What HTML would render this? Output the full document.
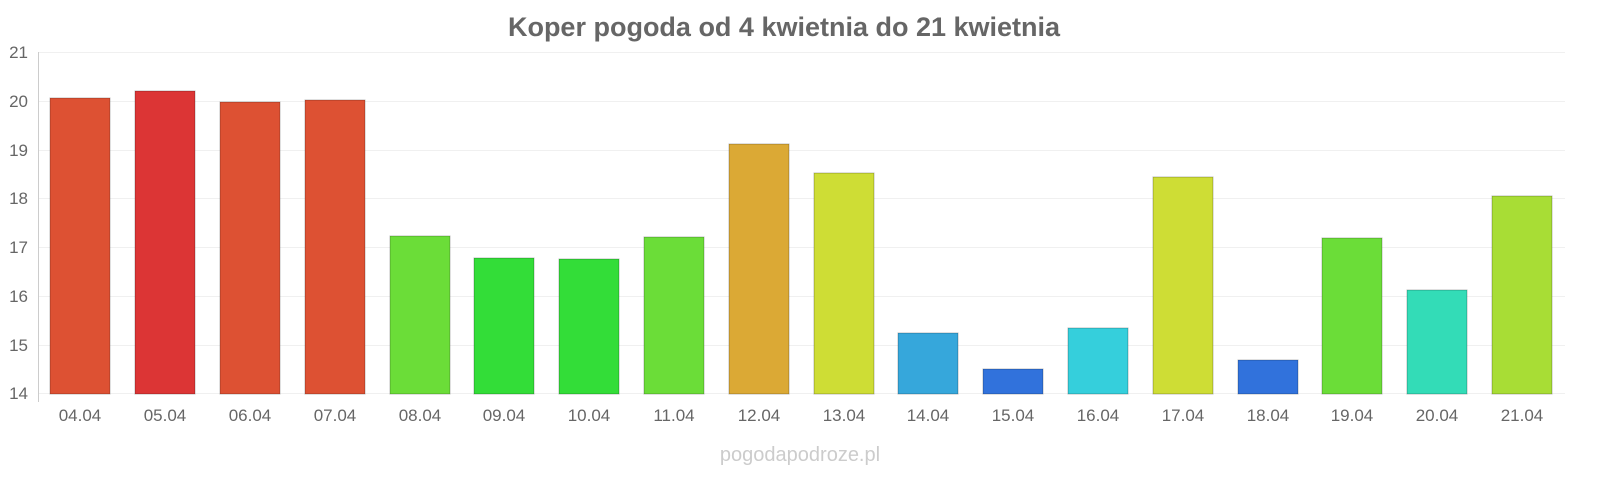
<!DOCTYPE html>
<html><head><meta charset="utf-8"><style>
body{margin:0;background:#fff;}
svg{display:block;font-family:"Liberation Sans",sans-serif;}
</style></head><body>
<svg width="1600" height="480" xmlns="http://www.w3.org/2000/svg">
<rect width="1600" height="480" fill="#fff"/>
<text x="784" y="36" text-anchor="middle" font-size="27" font-weight="bold" fill="#666">Koper pogoda od 4 kwietnia do 21 kwietnia</text>
<g stroke="#f0f0f0" stroke-width="1">
<line x1="38" x2="1565" y1="52.5" y2="52.5"/><line x1="38" x2="1565" y1="101.5" y2="101.5"/>
<line x1="38" x2="1565" y1="150.5" y2="150.5"/><line x1="38" x2="1565" y1="198.5" y2="198.5"/>
<line x1="38" x2="1565" y1="247.5" y2="247.5"/><line x1="38" x2="1565" y1="296.5" y2="296.5"/>
<line x1="38" x2="1565" y1="345.5" y2="345.5"/><line x1="38" x2="1565" y1="393.5" y2="393.5"/>
</g>
<line x1="38.5" x2="38.5" y1="52" y2="402" stroke="#ccc"/>
<g font-size="17" fill="#666" text-anchor="end">
<text x="28" y="58">21</text><text x="28" y="107">20</text><text x="28" y="156">19</text><text x="28" y="204">18</text>
<text x="28" y="253">17</text><text x="28" y="302">16</text><text x="28" y="351">15</text><text x="28" y="399">14</text>
</g>
<g stroke-opacity="0.25" stroke="#000">
<rect x="50" y="98" width="60" height="296" fill="#dd5133"/>
<rect x="135" y="91" width="60" height="303" fill="#dc3535"/>
<rect x="220" y="102" width="60" height="292" fill="#dd5133"/>
<rect x="305" y="100" width="60" height="294" fill="#dd5133"/>
<rect x="390" y="236" width="60" height="158" fill="#6bdd38"/>
<rect x="474" y="258" width="60" height="136" fill="#33dd38"/>
<rect x="559" y="259" width="60" height="135" fill="#33dd38"/>
<rect x="644" y="237" width="60" height="157" fill="#6bdd38"/>
<rect x="729" y="144" width="60" height="250" fill="#dba935"/>
<rect x="814" y="173" width="60" height="221" fill="#cedd35"/>
<rect x="898" y="333" width="60" height="61" fill="#36a7db"/>
<rect x="983" y="369" width="60" height="25" fill="#3172dc"/>
<rect x="1068" y="328" width="60" height="66" fill="#35cfdc"/>
<rect x="1153" y="177" width="60" height="217" fill="#cedd35"/>
<rect x="1238" y="360" width="60" height="34" fill="#3172dc"/>
<rect x="1322" y="238" width="60" height="156" fill="#6bdd38"/>
<rect x="1407" y="290" width="60" height="104" fill="#33dcb7"/>
<rect x="1492" y="196" width="60" height="198" fill="#a8dd35"/>
</g>
<g font-size="17" fill="#666" text-anchor="middle">
<text x="80" y="421">04.04</text><text x="165" y="421">05.04</text><text x="250" y="421">06.04</text><text x="335" y="421">07.04</text>
<text x="420" y="421">08.04</text><text x="504" y="421">09.04</text><text x="589" y="421">10.04</text><text x="674" y="421">11.04</text>
<text x="759" y="421">12.04</text><text x="844" y="421">13.04</text><text x="928" y="421">14.04</text><text x="1013" y="421">15.04</text>
<text x="1098" y="421">16.04</text><text x="1183" y="421">17.04</text><text x="1268" y="421">18.04</text><text x="1352" y="421">19.04</text>
<text x="1437" y="421">20.04</text><text x="1522" y="421">21.04</text>
</g>
<text x="800" y="461" text-anchor="middle" font-size="20" fill="#ccc">pogodapodroze.pl</text>
</svg>
</body></html>
